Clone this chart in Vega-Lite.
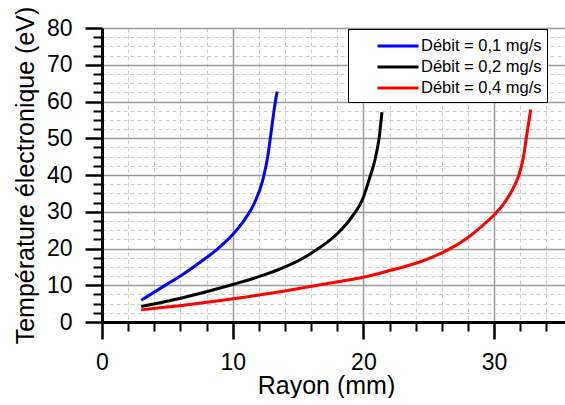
{
  "$schema": "https://vega.github.io/schema/vega-lite/v6.json",
  "width": 464,
  "height": 294,
  "autosize": {"type": "pad"},
  "padding": {"left": 12, "top": 6, "right": 0, "bottom": 0},
  "background": "white",
  "config": {
    "font": "Liberation Sans",
    "view": {"strokeWidth": 0},
    "axis": {
      "domain": true,
      "ticks": true,
      "domainColor": "#000000",
      "tickColor": "#000000",
      "domainWidth": 3,
      "tickWidth": 2.5,
      "tickSize": 17
    }
  },
  "data": {
    "values": [
      {"rayon": 3.0, "temp": 5.9, "debit": "Débit = 0,1 mg/s"},
      {"rayon": 4.8, "temp": 9.9, "debit": "Débit = 0,1 mg/s"},
      {"rayon": 6.2, "temp": 13.0, "debit": "Débit = 0,1 mg/s"},
      {"rayon": 7.4, "temp": 16.0, "debit": "Débit = 0,1 mg/s"},
      {"rayon": 8.85, "temp": 19.9, "debit": "Débit = 0,1 mg/s"},
      {"rayon": 10.0, "temp": 23.8, "debit": "Débit = 0,1 mg/s"},
      {"rayon": 10.9, "temp": 27.8, "debit": "Débit = 0,1 mg/s"},
      {"rayon": 11.65, "temp": 32.3, "debit": "Débit = 0,1 mg/s"},
      {"rayon": 12.3, "temp": 38.6, "debit": "Débit = 0,1 mg/s"},
      {"rayon": 12.68, "temp": 45.0, "debit": "Débit = 0,1 mg/s"},
      {"rayon": 12.93, "temp": 51.4, "debit": "Débit = 0,1 mg/s"},
      {"rayon": 13.18, "temp": 58.0, "debit": "Débit = 0,1 mg/s"},
      {"rayon": 13.4, "temp": 62.7, "debit": "Débit = 0,1 mg/s"},
      {"rayon": 3.0, "temp": 4.2, "debit": "Débit = 0,2 mg/s"},
      {"rayon": 6.4, "temp": 6.8, "debit": "Débit = 0,2 mg/s"},
      {"rayon": 10.0, "temp": 10.2, "debit": "Débit = 0,2 mg/s"},
      {"rayon": 12.4, "temp": 12.8, "debit": "Débit = 0,2 mg/s"},
      {"rayon": 14.0, "temp": 15.0, "debit": "Débit = 0,2 mg/s"},
      {"rayon": 15.2, "temp": 17.0, "debit": "Débit = 0,2 mg/s"},
      {"rayon": 16.3, "temp": 19.4, "debit": "Débit = 0,2 mg/s"},
      {"rayon": 18.0, "temp": 24.0, "debit": "Débit = 0,2 mg/s"},
      {"rayon": 19.2, "temp": 29.0, "debit": "Débit = 0,2 mg/s"},
      {"rayon": 19.95, "temp": 33.5, "debit": "Débit = 0,2 mg/s"},
      {"rayon": 20.45, "temp": 38.9, "debit": "Débit = 0,2 mg/s"},
      {"rayon": 20.9, "temp": 44.4, "debit": "Débit = 0,2 mg/s"},
      {"rayon": 21.2, "temp": 50.0, "debit": "Débit = 0,2 mg/s"},
      {"rayon": 21.42, "temp": 57.1, "debit": "Débit = 0,2 mg/s"},
      {"rayon": 3.0, "temp": 3.3, "debit": "Débit = 0,4 mg/s"},
      {"rayon": 6.4, "temp": 4.6, "debit": "Débit = 0,4 mg/s"},
      {"rayon": 10.0, "temp": 6.3, "debit": "Débit = 0,4 mg/s"},
      {"rayon": 14.1, "temp": 8.5, "debit": "Débit = 0,4 mg/s"},
      {"rayon": 17.8, "temp": 10.8, "debit": "Débit = 0,4 mg/s"},
      {"rayon": 20.0, "temp": 12.2, "debit": "Débit = 0,4 mg/s"},
      {"rayon": 22.0, "temp": 14.0, "debit": "Débit = 0,4 mg/s"},
      {"rayon": 24.2, "temp": 16.2, "debit": "Débit = 0,4 mg/s"},
      {"rayon": 26.5, "temp": 19.7, "debit": "Débit = 0,4 mg/s"},
      {"rayon": 28.0, "temp": 23.0, "debit": "Débit = 0,4 mg/s"},
      {"rayon": 29.2, "temp": 26.5, "debit": "Débit = 0,4 mg/s"},
      {"rayon": 30.1, "temp": 29.5, "debit": "Débit = 0,4 mg/s"},
      {"rayon": 30.8, "temp": 32.5, "debit": "Débit = 0,4 mg/s"},
      {"rayon": 31.4, "temp": 36.0, "debit": "Débit = 0,4 mg/s"},
      {"rayon": 31.9, "temp": 40.0, "debit": "Débit = 0,4 mg/s"},
      {"rayon": 32.25, "temp": 45.0, "debit": "Débit = 0,4 mg/s"},
      {"rayon": 32.5, "temp": 51.0, "debit": "Débit = 0,4 mg/s"},
      {"rayon": 32.8, "temp": 57.8, "debit": "Débit = 0,4 mg/s"}
    ]
  },
  "mark": {"type": "line", "strokeWidth": 3, "interpolate": "monotone"},
  "encoding": {
    "x": {
      "field": "rayon",
      "type": "quantitative",
      "scale": {"domain": [0, 35.5], "nice": false, "zero": false},
      "axis": {
        "title": "Rayon (mm)",
        "titleFontSize": 25,
        "titleFontWeight": "normal",
        "titleColor": "black",
        "titleX": 224,
        "titleY": 71,
        "titleBaseline": "alphabetic",
        "values": [0,2,4,6,8,10,12,14,16,18,20,22,24,26,28,30,32,34],
        "labelExpr": "datum.value % 10 === 0 ? datum.label : ''",
        "labelFontSize": 23,
        "labelColor": "black",
        "labelPadding": 12,
        "labelFlush": false,
        "labelOverlap": false,
        "tickSize": {"condition": {"test": "datum.value % 10 === 0", "value": 17}, "value": 9},
        "tickWidth": {"condition": {"test": "datum.value % 10 === 0", "value": 2.5}, "value": 2},
        "grid": true,
        "gridColor": {"condition": {"test": "datum.value % 10 === 0", "value": "#9a9a9a"}, "value": "#cccccc"},
        "gridDash": {"condition": {"test": "datum.value % 10 === 0", "value": [1, 0]}, "value": [4, 3]},
        "gridWidth": {"condition": {"test": "datum.value % 10 === 0", "value": 1.5}, "value": 1}
      }
    },
    "y": {
      "field": "temp",
      "type": "quantitative",
      "scale": {"domain": [0, 80], "nice": false},
      "axis": {
        "title": "Température électronique (eV)",
        "titleFontSize": 25,
        "titleFontWeight": "normal",
        "titleColor": "black",
        "titleX": -69,
        "titleY": 147,
        "titleBaseline": "alphabetic",
        "values": [0,2.5,5,7.5,10,12.5,15,17.5,20,22.5,25,27.5,30,32.5,35,37.5,40,42.5,45,47.5,50,52.5,55,57.5,60,62.5,65,67.5,70,72.5,75,77.5,80],
        "labelExpr": "datum.value % 10 === 0 ? datum.label : ''",
        "labelFontSize": 23,
        "labelColor": "black",
        "labelPadding": 13,
        "labelFlush": false,
        "labelOverlap": false,
        "tickSize": {"condition": {"test": "datum.value % 10 === 0", "value": 17}, "value": 9},
        "tickWidth": {"condition": {"test": "datum.value % 10 === 0", "value": 2.5}, "value": 2},
        "grid": true,
        "gridColor": {"condition": {"test": "datum.value % 10 === 0", "value": "#9a9a9a"}, "value": "#cccccc"},
        "gridDash": {"condition": {"test": "datum.value % 10 === 0", "value": [1, 0]}, "value": [4, 3]},
        "gridWidth": {"condition": {"test": "datum.value % 10 === 0", "value": 1.5}, "value": 1}
      }
    },
    "color": {
      "field": "debit",
      "type": "nominal",
      "scale": {
        "domain": ["Débit = 0,1 mg/s", "Débit = 0,2 mg/s", "Débit = 0,4 mg/s"],
        "range": ["#0000ff", "#000000", "#ff0000"]
      },
      "legend": {
        "title": null,
        "orient": "none",
        "legendX": 246,
        "legendY": 1,
        "fillColor": "white",
        "strokeColor": "black",
        "padding": 5,
        "symbolType": "M-2,0H2",
        "symbolSize": 420,
        "symbolStrokeWidth": 3,
        "symbolOffset": 33,
        "labelFontSize": 16.5,
        "labelColor": "black",
        "labelOffset": 11,
        "labelExpr": "datum.label + '\u00a0\u00a0\u00a0\u00a0\u00a0'",
        "rowPadding": 0
      }
    }
  }
}
